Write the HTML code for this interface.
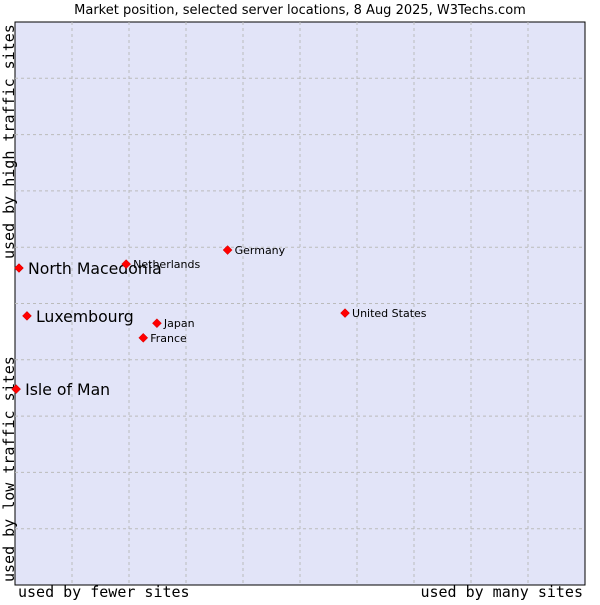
<!DOCTYPE html>
<html><head><meta charset="utf-8"><style>
body{margin:0;background:#fff;width:600px;height:600px;overflow:hidden}
svg text{font-family:"DejaVu Sans","Liberation Sans",sans-serif}
.ax{font-family:"DejaVu Sans Mono","Liberation Mono",monospace;font-size:15px;fill:#000}
</style></head><body>
<svg id="c" width="600" height="600">
<text x="300" y="14" text-anchor="middle" font-size="13">Market position, selected server locations, 8 Aug 2025, W3Techs.com</text>
<rect x="15" y="22" width="570" height="563" fill="#e2e4f8" stroke="#000" stroke-width="1"/>
<g id="grid"></g>
<text class="ax" x="18" y="597">used by fewer sites</text>
<text class="ax" x="583" y="597" text-anchor="end">used by many sites</text>
<text class="ax" transform="translate(14,259) rotate(-90)">used by high traffic sites</text>
<text class="ax" transform="translate(14,582) rotate(-90)">used by low traffic sites</text>
<g id="pts"></g>
</svg>
<script>
const names=["North Macedonia","Netherlands","Germany","Luxembourg","Japan","France","United States","Isle of Man"];
const xs=[0.7,19.5,37.3,2.1,24.9,22.5,57.9,0.2];
const ys=[56.3,57,59.5,47.8,46.5,43.9,48.3,34.8];
const big=[true,false,false,true,false,false,false,true];
const L=15,R=585,T=22,B=585;
const sx=v=>L+v/100*(R-L), sy=v=>B-v/100*(B-T);
const NS="http://www.w3.org/2000/svg";
const g=document.getElementById('grid'),p=document.getElementById('pts');
for(let i=1;i<10;i++){
 const a=document.createElementNS(NS,'line');
 
 
 a.setAttribute('x1',sx(i*10));a.setAttribute('x2',sx(i*10));a.setAttribute('y1',T);a.setAttribute('y2',B);
 a.setAttribute('stroke','#bbb');a.setAttribute('stroke-dasharray','3,3');g.appendChild(a);
 const b=document.createElementNS(NS,'line');
 
 
 b.setAttribute('y1',sy(i*10));b.setAttribute('y2',sy(i*10));b.setAttribute('x1',L);b.setAttribute('x2',R);
 b.setAttribute('stroke','#bbb');b.setAttribute('stroke-dasharray','3,3');g.appendChild(b);
}
names.forEach((n,i)=>{
 const x=sx(xs[i]),y=sy(ys[i]);
 const d=document.createElementNS(NS,'path');
 
 
 d.setAttribute('d',`M${x} ${y-4.5}L${x+4.5} ${y}L${x} ${y+4.5}L${x-4.5} ${y}Z`);
 d.setAttribute('fill','#f00');d.setAttribute('stroke','#c00');d.setAttribute('stroke-width','0.5');p.appendChild(d);
 const t=document.createElementNS(NS,'text');
 
 
 t.setAttribute('x',x+(big[i]?9:7));t.setAttribute('y',y+(big[i]?6:4));
 t.setAttribute('font-size',big[i]?15.7:11);t.textContent=n;p.appendChild(t);
});
</script>
</body></html>
